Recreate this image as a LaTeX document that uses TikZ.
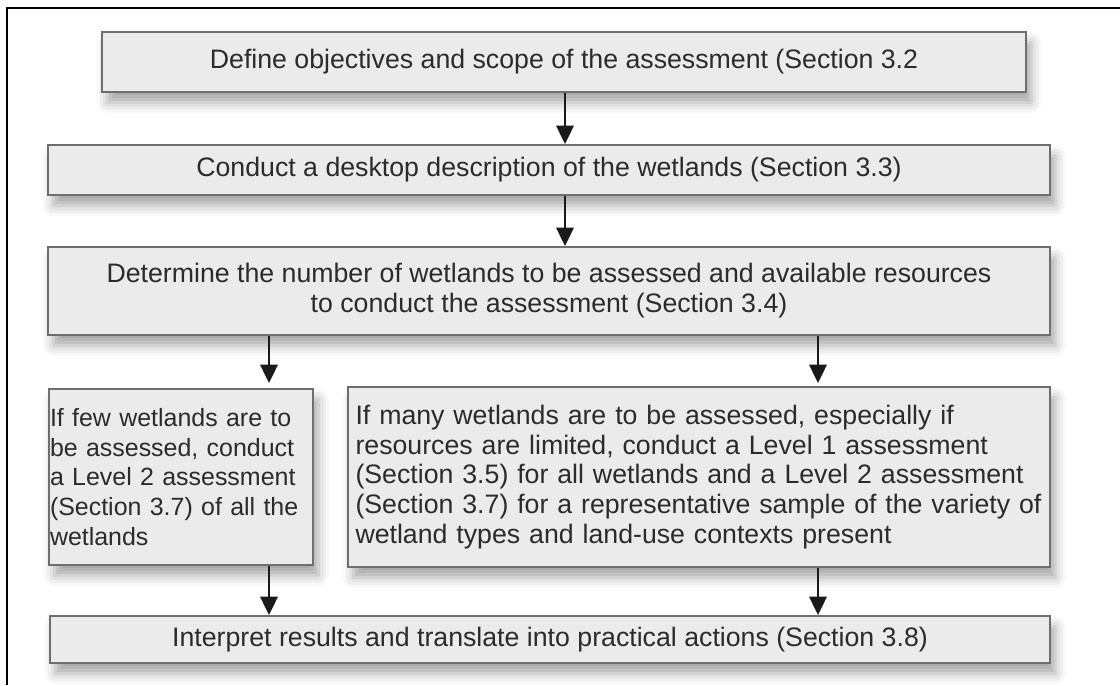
\documentclass[tikz,border=0pt]{standalone}
\usepackage{fontspec}
\setmainfont{Liberation Sans}
\usepackage{tikz}
\usetikzlibrary{arrows.meta, positioning, shadows.blur}
\definecolor{boxcol}{HTML}{EBEBEB}
\definecolor{edgecol}{HTML}{6E6E6E}
\definecolor{textcol}{HTML}{2B2B2B}
\definecolor{arrowcol}{HTML}{1A1A1A}
\tikzset{
  stepbox/.style={rectangle, draw=edgecol, line width=1.1pt, fill=boxcol, text=textcol, inner sep=0pt,
    blur shadow={shadow xshift=3pt, shadow yshift=-6pt, shadow blur radius=6pt, shadow opacity=35}},
  notebox/.style={stepbox, align=left, anchor=center},
  flow/.style={->, draw=arrowcol, line width=1pt},
}
\begin{document}
\begin{tikzpicture}[>={Triangle[width=10pt, length=10.5pt]}, font=\fontsize{15.2}{17}\selectfont]
  \useasboundingbox (0,0) rectangle (22.4,-13.7);
  % frame
  \draw[line width=1.4pt] (0.14,-13.7) -- (0.14,-0.16) -- (22.4,-0.16);
  % steps
  \node[stepbox, minimum width=18.48cm, minimum height=1.2cm] (objectives) at (11.28,-1.24)
    {Define objectives and scope of the assessment (Section 3.2};
  \node[stepbox, minimum width=20.04cm, minimum height=1.0cm] (desktop) at (10.98,-3.4)
    {Conduct a desktop description of the wetlands (Section 3.3)};
  \node[stepbox, minimum width=20.04cm, minimum height=1.76cm, align=center] (number) at (10.98,-5.82)
    {Determine the number of wetlands to be assessed and available resources\\to conduct the assessment (Section 3.4)};
  \node[notebox, minimum width=5.28cm, minimum height=3.52cm, text width=5.24cm, font=\fontsize{14.2}{17}\selectfont] (few) at (3.62,-9.54)
    {If few wetlands are to\\be assessed, conduct\\a Level 2 assessment\\(Section 3.7) of all the\\wetlands\\[6pt]};
  \node[notebox, minimum width=14.04cm, minimum height=3.6cm, text width=13.74cm] (many) at (13.98,-9.54)
    {If many wetlands are to be assessed, especially if\\resources are limited, conduct a Level 1 assessment\\(Section 3.5) for all wetlands and a Level 2 assessment\\(Section 3.7) for a representative sample of the variety of\\wetland types and land-use contexts present};
  \node[stepbox, minimum width=20cm, minimum height=0.94cm] (interpret) at (11.0,-12.79)
    {Interpret results and translate into practical actions (Section 3.8)};
  % arrow columns
  \coordinate (midcol) at (11.3,0);
  \coordinate (lcol) at (5.38,0);
  \coordinate (rcol) at (16.36,0);
  \draw[flow] (midcol |- objectives.south) -- (midcol |- desktop.north);
  \draw[flow] (midcol |- desktop.south) -- (midcol |- number.north);
  \draw[flow] (lcol |- number.south) -- ([yshift=0.1cm]lcol |- few.north);
  \draw[flow] (rcol |- number.south) -- ([yshift=0.06cm]rcol |- many.north);
  \draw[flow] (lcol |- few.south) -- (lcol |- interpret.north);
  \draw[flow] (rcol |- many.south) -- (rcol |- interpret.north);
\end{tikzpicture}
\end{document}
